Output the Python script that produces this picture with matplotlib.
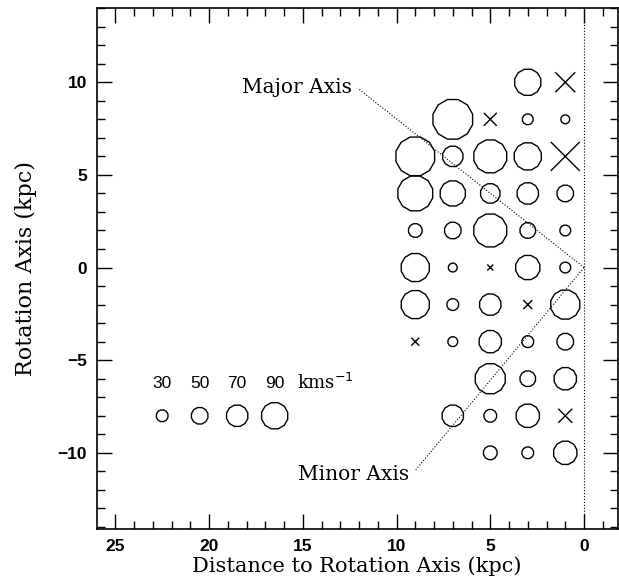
import matplotlib.pyplot as plt
import numpy as np

# grid of measured points: distance to rotation axis, height, velocity (km/s)
# negative velocity -> drawn as a cross
dist = [3, 1,
        7, 5, 3, 1,
        9, 7, 5, 3, 1,
        9, 7, 5, 3, 1,
        9, 7, 5, 3, 1,
        9, 7, 5, 3, 1,
        9, 7, 5, 3, 1,
        9, 7, 5, 3, 1,
        5, 3, 1,
        7, 5, 3, 1,
        5, 3, 1]
height = [10, 10,
          8, 8, 8, 8,
          6, 6, 6, 6, 6,
          4, 4, 4, 4, 4,
          2, 2, 2, 2, 2,
          0, 0, 0, 0, 0,
          -2, -2, -2, -2, -2,
          -4, -4, -4, -4, -4,
          -6, -6, -6,
          -8, -8, -8, -8,
          -10, -10, -10]
vel = [90, -62,
       146, -34, 26, 18,
       142, 66, 118, 94, -98,
       126, 86, 62, 70, 50,
       38, 50, 118, 46, 26,
       98, 18, -6, 82, 26,
       98, 30, 70, -18, 102,
       -14, 22, 74, 30, 50,
       106, 46, 74,
       70, 34, 78, -38,
       38, 30, 78]

# scale key
key_x = [22.5, 20.5, 18.5, 16.5]
key_v = [30, 50, 70, 90]

# axis end points (kpc)
major_end = (12.07, 9.68)
minor_end = (9.04, -11.0)

DPI = 100
POLY = (12, 0, 15)   # 12-sided open polygon, flat top


def msize(v):
    # marker diameter in points (diameter in px ~ 4.5 + |v|/4)
    return (4.5 + abs(v) / 4.0) * 72.0 / DPI


fig = plt.figure(figsize=(6.19, 5.83), dpi=DPI)
ax = fig.add_axes([0.156, 0.093, 0.842, 0.893])

dist = np.array(dist)
height = np.array(height)
vel = np.array(vel)
sizes = np.array([msize(v) for v in vel]) ** 2
pos = vel > 0

ax.scatter(dist[pos], height[pos], s=sizes[pos], marker=POLY,
           facecolors='none', edgecolors='black', linewidths=1.0, zorder=3)
ax.scatter(dist[~pos], height[~pos], s=sizes[~pos], marker='x',
           color='black', linewidths=1.0, zorder=3)

# key
ksz = np.array([msize(v) for v in key_v]) ** 2
ax.scatter(key_x, [-8] * 4, s=ksz, marker=POLY, facecolors='none',
           edgecolors='black', linewidths=1.0)
for kx, kv in zip(key_x, key_v):
    ax.text(kx, -6.25, str(kv), ha='center', va='center', fontsize=12.5,
            family='Liberation Sans')
ax.text(15.3, -6.25, 'kms$^{-1}$', ha='left', va='center', fontsize=13,
        family='DejaVu Serif')

# rotation axis and major/minor axes
ax.axvline(0, color='black', lw=0.8, ls=':')
ax.plot([0, major_end[0]], [0, major_end[1]], color='black', lw=0.8, ls=':')
ax.plot([0, minor_end[0]], [0, minor_end[1]], color='black', lw=0.8, ls=':')
ax.text(major_end[0] + 0.3, major_end[1] + 0.05, 'Major Axis', ha='right',
        va='center', fontsize=14.5, family='DejaVu Serif')
ax.text(minor_end[0] + 0.3, minor_end[1] - 0.15, 'Minor Axis', ha='right',
        va='center', fontsize=14.5, family='DejaVu Serif')

ax.set_xlim(26, -1.8)
ax.set_ylim(-14.1, 14)
ax.set_xticks([25, 20, 15, 10, 5, 0])
ax.set_xticks(np.arange(-1, 26, 1), minor=True)
ax.set_yticks([-10, -5, 0, 5, 10])
ax.set_yticks(np.arange(-14, 15, 1), minor=True)
ax.tick_params(which='both', direction='in', top=True, right=True, width=1.0)
ax.tick_params(which='major', length=11, pad=7)
ax.tick_params(which='minor', length=6)
for lab in ax.get_xticklabels() + ax.get_yticklabels():
    lab.set_family('Liberation Sans')
    lab.set_fontsize(12.5)
    lab.set_fontweight('bold')
for sp in ax.spines.values():
    sp.set_linewidth(1.2)

ax.set_xlabel('Distance to Rotation Axis (kpc)', fontsize=15,
              family='DejaVu Serif', labelpad=2)
ax.set_ylabel('Rotation Axis (kpc)', fontsize=16, family='DejaVu Serif',
              labelpad=15)

fig.savefig('out.png', dpi=DPI)
